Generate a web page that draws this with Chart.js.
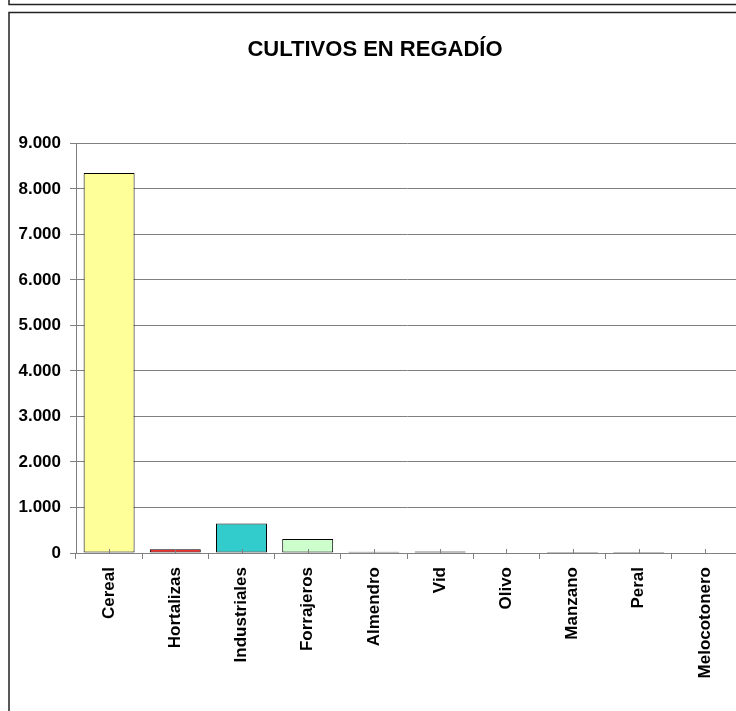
<!DOCTYPE html>
<html>
<head>
<meta charset="utf-8">
<script src="https://cdn.jsdelivr.net/npm/chart.js@4/dist/chart.umd.min.js"></script>
<style>
  html, body { margin: 0; padding: 0; background: #fff; overflow: hidden; }
  #wrap { position: absolute; left: 0; top: 0; width: 750px; height: 711px; }
</style>
</head>
<body>
<div id="wrap"><canvas id="chart"></canvas></div>
<script>
// datos del gráfico
const cultivos = ['Cereal', 'Hortalizas', 'Industriales', 'Forrajeros', 'Almendro', 'Vid', 'Olivo', 'Manzano', 'Peral', 'Melocotonero'];
const hectareas = [8350, 80, 650, 310, 25, 35, 0, 20, 22, 0];
const colores = ['#FFFF99', '#FF0000', '#33CCCC', '#CCFFCC', '#000000', '#000000', '#000000', '#000000', '#000000', '#000000'];
const yTicks = [0, 1000, 2000, 3000, 4000, 5000, 6000, 7000, 8000, 9000];

const fontFam = '"Liberation Sans", Arial, sans-serif';

// formato 9.000
const fmt = v => String(v).replace(/\B(?=(\d{3})+(?!\d))/g, '.');

// marcos del fondo
const marcos = {
    id: 'marcos',
    beforeDraw(chart) {
        const ctx = chart.ctx;
        ctx.save();
        ctx.fillStyle = '#fff';
        ctx.fillRect(0, 0, chart.width, chart.height);
        ctx.strokeStyle = '#222';
        ctx.lineWidth = 1.5;
        ctx.strokeRect(9, -10, 760, 14.5);
        ctx.strokeRect(9, 12.5, 760, 720);
        ctx.restore();
    }
};

// marcas pequeñas en el centro de cada categoría
const marcasCentro = {
    id: 'marcasCentro',
    afterDatasetsDraw(chart) {
        const ctx = chart.ctx;
        const x = chart.scales.x;
        const y0 = chart.scales.y.getPixelForValue(0);
        ctx.save();
        ctx.strokeStyle = '#808080';
        ctx.lineWidth = 1;
        cultivos.forEach((c, i) => {
            const px = Math.round(x.getPixelForValue(i)) + 0.5;
            ctx.beginPath();
            ctx.moveTo(px, y0);
            ctx.lineTo(px, y0 - 4);
            ctx.stroke();
        });
        ctx.restore();
    }
};

new Chart(document.getElementById('chart'), {
    type: 'bar',
    data: {
        labels: cultivos,
        datasets: [{
            data: hectareas,
            backgroundColor: colores,
            borderColor: '#000',
            borderWidth: hectareas.map(v => v > 0 ? 1 : 0),
            borderSkipped: false,
            barPercentage: 0.77,
            categoryPercentage: 1
        }]
    },
    options: {
        responsive: true,
        maintainAspectRatio: false,
        animation: false,
        layout: { padding: { left: 12, right: 12, top: 0, bottom: 0 } },
        plugins: {
            legend: { display: false },
            tooltip: { enabled: false },
            title: {
                display: true,
                text: 'CULTIVOS EN REGADÍO',
                color: '#000',
                font: { family: fontFam, size: 22, weight: 'bold' },
                padding: { top: 37, bottom: 80 }
            }
        },
        scales: {
            x: {
                grid: { drawOnChartArea: false, drawTicks: true, tickLength: 6, color: '#808080', offset: true },
                border: { color: '#808080' },
                ticks: {
                    color: '#000',
                    font: { family: fontFam, size: 17, weight: 'bold' },
                    minRotation: 90,
                    maxRotation: 90,
                    autoSkip: false,
                    padding: 8
                },
                afterFit(scale) { scale.height = 158; }
            },
            y: {
                min: 0,
                max: 9000,
                afterBuildTicks(scale) { scale.ticks = yTicks.map(v => ({ value: v })); },
                grid: { color: '#808080', tickLength: 6 },
                border: { color: '#808080' },
                ticks: {
                    color: '#000',
                    font: { family: fontFam, size: 17, weight: 'bold' },
                    padding: 9,
                    callback: v => fmt(v)
                },
                afterFit(scale) { scale.width = 64; }
            }
        }
    },
    plugins: [marcos, marcasCentro]
});
</script>
</body>
</html>
